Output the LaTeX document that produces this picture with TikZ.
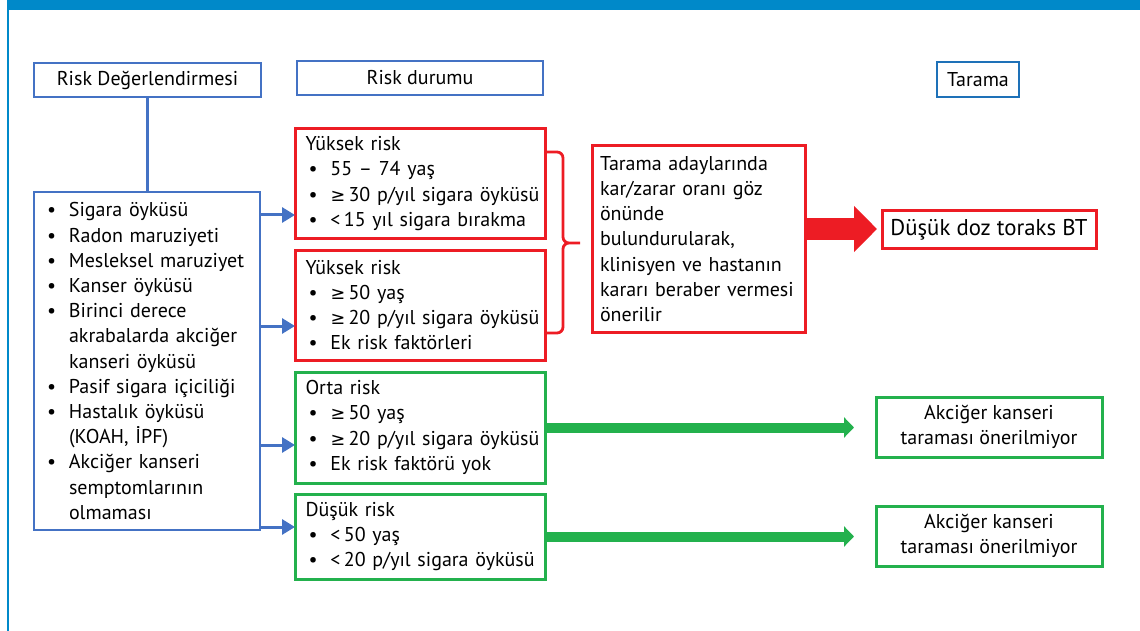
\documentclass[tikz,border=0pt]{standalone}
\usepackage{fontspec}
\setmainfont{PT Sans}
\newfontfamily\symfont[Scale=0.88]{DejaVu Sans}
\usetikzlibrary{arrows.meta,positioning}

\definecolor{barblue}{RGB}{0,137,201}
\definecolor{boxblue}{RGB}{68,114,196}
\definecolor{tarblue}{RGB}{30,113,184}
\definecolor{riskred}{RGB}{237,28,36}
\definecolor{riskgreen}{RGB}{35,177,77}

\newcommand\bullitem[1]{\makebox[25pt][l]{\hspace*{3pt}\textbullet}\mbox{#1}}
\newcommand\contitem[1]{\hspace*{25pt}\mbox{#1}}
\newcommand\atleast{{\symfont ≥}\,}

\begin{document}
\begin{tikzpicture}[x=1pt, y=-1pt,
  >={Triangle[length=13pt,width=15pt]},
  every node/.style={font=\fontsize{20}{25.2}\selectfont, inner sep=0pt, outer sep=0pt},
  head/.style={draw=boxblue, line width=2.5pt, anchor=north west,
    minimum height=34pt, font=\fontsize{20}{24}\selectfont},
  lst/.style={line width=3pt, text width=229pt, inner xsep=10.5pt, align=left},
  redbox/.style={lst, draw=riskred},
  greenbox/.style={lst, draw=riskgreen},
  result/.style={draw=riskgreen, line width=3pt, anchor=north west,
    minimum width=226pt, minimum height=60pt, align=center},
  bluearrow/.style={->, draw=boxblue, line width=3pt},
  greenarrow/.style={-{Triangle[length=10pt,width=20pt]}, draw=riskgreen, line width=10pt},
  ]
	\useasboundingbox (0,0) rectangle (1140,631);
	\fill[barblue] (7,0) rectangle (1140,10);
	\draw[barblue, line width=1.5pt] (8,0) -- (8,631);

	% column heads
	\node[head, minimum width=227pt] (assess) at (34,63) {Risk Değerlendirmesi};
	\node[head, minimum width=246pt] (status) at (297,61) {Risk durumu};
	\node[head, draw=tarblue, minimum width=82pt, minimum height=35pt] (screen) at (937,62) {Tarama};

	\node[draw=boxblue, line width=2.5pt, anchor=north west, text width=206pt,
	  inner xsep=10pt, minimum height=338pt, align=left] (factors) at (34,192)
	  {\bullitem{Sigara öyküsü}\\ \bullitem{Radon maruziyeti}\\ \bullitem{Mesleksel maruziyet}\\
	   \bullitem{Kanser öyküsü}\\ \bullitem{Birinci derece}\\ \contitem{akrabalarda akciğer}\\
	   \contitem{kanseri öyküsü}\\ \bullitem{Pasif sigara içiciliği}\\ \bullitem{Hastalık öyküsü}\\
	   \contitem{(KOAH, İPF)}\\ \bullitem{Akciğer kanseri}\\ \contitem{semptomlarının}\\
	   \contitem{olmaması}};
	\draw[draw=boxblue, line width=2.5pt] (assess) -- (assess |- factors.north);

	% risk groups
	\node[redbox, anchor=north west, minimum height=109pt] (high1) at (295,129)
	  {Yüksek risk\\ \bullitem{55 – 74 yaş}\\ \bullitem{\atleast 30 p/yıl sigara öyküsü}\\ \bullitem{<\,15 yıl sigara bırakma}};
	\node[redbox, minimum height=110pt, below=12pt of high1] (high2)
	  {Yüksek risk\\ \bullitem{\atleast 50 yaş}\\ \bullitem{\atleast 20 p/yıl sigara öyküsü}\\ \bullitem{Ek risk faktörleri}};
	\node[greenbox, minimum height=111pt, below=12pt of high2] (mid)
	  {Orta risk\\ \bullitem{\atleast 50 yaş}\\ \bullitem{\atleast 20 p/yıl sigara öyküsü}\\ \bullitem{Ek risk faktörü yok}};
	\node[greenbox, minimum height=85pt, below=11pt of mid] (low)
	  {Düşük risk\\ \bullitem{<\,50 yaş}\\ \bullitem{<\,20 p/yıl sigara öyküsü}};

	\draw[bluearrow] (factors.east |- 0,215) -- (high1.west |- 0,215);
	\draw[bluearrow] (factors.east |- 0,326) -- (high2.west |- 0,326);
	\draw[bluearrow] (factors.east |- 0,445) -- (mid.west |- 0,445);
	\draw[bluearrow] (factors.east |- 0,527) -- (low.west |- 0,527);

	% brace over the two high risk boxes
	\draw[riskred, line width=2.8pt, rounded corners=6pt]
	  (high1.east |- 0,152) -- ++(18,0) -- ++(0,91) -- ++(17,0)
	  (high2.east |- 0,333) -- ++(18,0) -- ++(0,-90) -- ++(17,0);

	\node[draw=riskred, line width=3pt, anchor=north west, text width=197pt,
	  inner xsep=8pt, minimum height=186pt, align=left] (decide) at (592,146)
	  {Tarama adaylarında\\ kar/zarar oranı göz\\ önünde\\ bulundurularak,\\
	   klinisyen ve hastanın\\ \mbox{kararı beraber vermesi}\\ önerilir};
	\node[draw=riskred, line width=3pt, anchor=north west, minimum width=214pt,
	  minimum height=37pt, font=\fontsize{22.8}{26}\selectfont] (ldct) at (882,211) {Düşük doz toraks BT};
	\draw[-{Triangle[length=23pt,width=45pt]}, draw=riskred, fill=riskred, line width=22pt,
	  shorten >=5pt] (decide.east |- 0,229) -- (ldct.west |- 0,229);

	% no screening
	\node[result] (none1) at (876,397) {Akciğer kanseri\\ taraması önerilmiyor};
	\node[result, below=49pt of none1] (none2) {Akciğer kanseri\\ taraması önerilmiyor};
	\draw[greenarrow, shorten >=22pt] (mid.east) -- (mid.east -| none1.west);
	\draw[greenarrow, shorten >=22pt] (low.east) -- (low.east -| none2.west);
\end{tikzpicture}
\end{document}
